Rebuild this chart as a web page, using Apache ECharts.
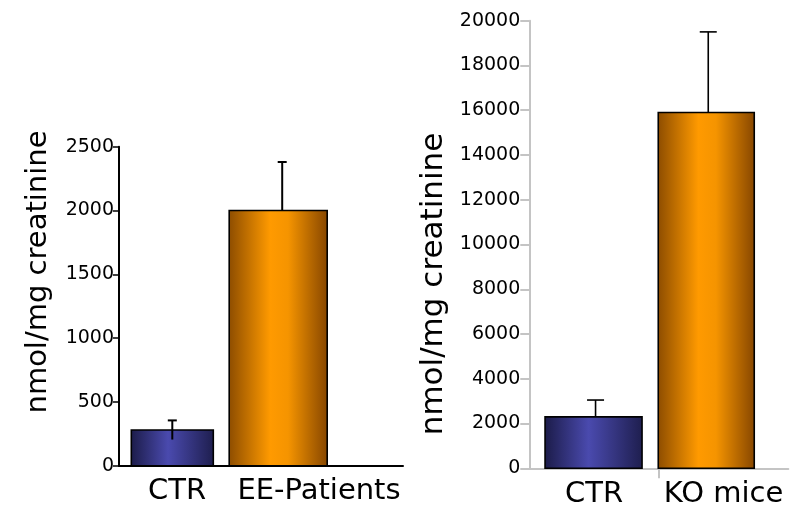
<!DOCTYPE html>
<html>
<head>
<meta charset="utf-8">
<script src="https://cdn.jsdelivr.net/npm/echarts@6/dist/echarts.min.js"></script>
<style>
html,body{margin:0;padding:0;background:#fff;}
#chart{width:791px;height:512px;}
</style>
</head>
<body>
<div id="chart"></div>
<script>
// ---- data ----
const leftCategories = ['CTR', 'EE-Patients'];
const leftValues = [280, 2000];
const leftErrors = [75, 380];

const rightCategories = ['CTR', 'KO mice'];
const rightValues = [2300, 15900];
const rightErrors = [750, 3600];

const yTitle = 'nmol/mg creatinine';

// ---- styles / layout ----
const blueGrad = [
  {offset: 0, color: '#1b1b48'},
  {offset: 0.45, color: '#4a4aae'},
  {offset: 1, color: '#1e1e4e'}
];
const orangeGrad = [
  {offset: 0, color: '#8c4c00'},
  {offset: 0.42, color: '#ff9a00'},
  {offset: 0.6, color: '#f59400'},
  {offset: 1, color: '#864600'}
];
const grads = [blueGrad, orangeGrad];

const layouts = [
  { offsets: [-17.7, -53.8], widths: [82, 98], errShift: [0, 4], cap: 9, errWidth: 2, showLow: [true, false] },
  { offsets: [-0.5, -17.3], widths: [97, 96], errShift: [2, 2], cap: 17, errWidth: 1.6, showLow: [false, false] }
];

function makeRender(layout) {
  return function (params, api) {
    const i = params.dataIndex;
    const x = api.value(0), v = api.value(1), e = api.value(2);
    const base = api.coord([x, 0]);
    const top = api.coord([x, v]);
    const eTop = api.coord([x, v + e]);
    const eLow = api.coord([x, v - e]);
    const cx = base[0] + layout.offsets[i];
    const w = layout.widths[i];
    const ex = cx + layout.errShift[i];
    return {
      type: 'group',
      children: [
        {
          type: 'rect',
          shape: {x: cx - w / 2, y: top[1], width: w, height: base[1] - top[1]},
          style: {
            fill: new echarts.graphic.LinearGradient(0, 0, 1, 0, grads[i]),
            stroke: '#000', lineWidth: 1.6
          }
        },
        {
          type: 'line',
          shape: {x1: ex, y1: layout.showLow[i] ? eLow[1] : top[1], x2: ex, y2: eTop[1]},
          style: {stroke: '#000', lineWidth: layout.errWidth}
        },
        {
          type: 'line',
          shape: {x1: ex - layout.cap / 2, y1: eTop[1], x2: ex + layout.cap / 2, y2: eTop[1]},
          style: {stroke: '#000', lineWidth: layout.errWidth}
        }
      ]
    };
  };
}

const valFont = 'DejaVu Sans';
const catFont = 'DejaVu Sans';

const chart = echarts.init(document.getElementById('chart'), null, {renderer: 'canvas'});
chart.setOption({
  animation: false,
  backgroundColor: '#ffffff',
  grid: [
    {left: 119, top: 146.7, width: 284, height: 319},
    {left: 529.3, top: 20.7, width: 259, height: 447.6}
  ],
  xAxis: [
    {
      gridIndex: 0, type: 'value', min: 0, max: leftCategories.length,
      axisLine: {show: true, lineStyle: {color: '#000', width: 2}},
      axisTick: {show: false},
      splitLine: {show: false},
      axisLabel: {
        customValues: leftCategories.map((c, i) => i + 0.5),
        formatter: v => leftCategories[Math.floor(v)],
        fontFamily: catFont, fontSize: 29, color: '#000', margin: 11,
        padding: [0, 26, 0, 0]
      }
    },
    {
      gridIndex: 1, type: 'value', min: 0, max: rightCategories.length,
      axisLine: {show: true, lineStyle: {color: '#c4c4c4', width: 2}},
      axisTick: {show: true, customValues: [1], length: 10, lineStyle: {color: '#c4c4c4', width: 2}},
      splitLine: {show: false},
      axisLabel: {
        customValues: rightCategories.map((c, i) => i + 0.5),
        formatter: v => rightCategories[Math.floor(v)],
        fontFamily: catFont, fontSize: 29, color: '#000', margin: 12
      }
    }
  ],
  yAxis: [
    {
      gridIndex: 0, type: 'value', min: 0, max: 2500, interval: 500,
      axisLine: {show: true, lineStyle: {color: '#000', width: 2}},
      axisTick: {show: true, length: 6, lineStyle: {color: '#000', width: 1.5}},
      splitLine: {show: false},
      axisLabel: {fontFamily: valFont, fontSize: 19, color: '#000', margin: 5, formatter: v => String(v)}
    },
    {
      gridIndex: 1, type: 'value', min: 0, max: 20000, interval: 2000,
      axisLine: {show: true, lineStyle: {color: '#c4c4c4', width: 2}},
      axisTick: {show: true, length: 9, lineStyle: {color: '#c4c4c4', width: 2}},
      splitLine: {show: false},
      axisLabel: {fontFamily: valFont, fontSize: 19, color: '#000', margin: 9, formatter: v => String(v)}
    }
  ],
  series: [
    {
      type: 'custom', xAxisIndex: 0, yAxisIndex: 0,
      renderItem: makeRender(layouts[0]),
      encode: {x: 0, y: 1},
      data: leftValues.map((v, i) => [i + 0.5, v, leftErrors[i]])
    },
    {
      type: 'custom', xAxisIndex: 1, yAxisIndex: 1,
      renderItem: makeRender(layouts[1]),
      encode: {x: 0, y: 1},
      data: rightValues.map((v, i) => [i + 0.5, v, rightErrors[i]])
    }
  ],
  graphic: [
    {
      type: 'text', x: 38, y: 272, rotation: Math.PI / 2,
      style: {text: yTitle, font: '29px "DejaVu Sans"', fill: '#000', align: 'center', verticalAlign: 'middle'}
    },
    {
      type: 'text', x: 434, y: 284, rotation: Math.PI / 2,
      style: {text: yTitle, font: '31px "DejaVu Sans"', fill: '#000', align: 'center', verticalAlign: 'middle'}
    }
  ]
});
</script>
</body>
</html>
